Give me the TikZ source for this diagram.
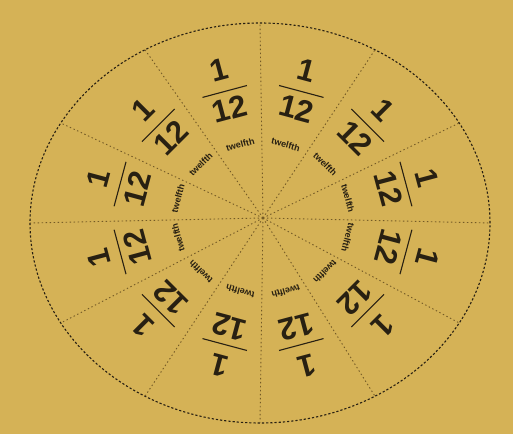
\documentclass[tikz,border=0pt]{standalone}
\usepackage{fontspec}
\setmainfont{Liberation Sans}
\usetikzlibrary{calc}
\definecolor{mustard}{RGB}{213,178,86}
\definecolor{ink}{RGB}{40,32,18}
\definecolor{spoke}{RGB}{115,90,38}
\begin{document}
\begin{tikzpicture}[x=1pt,y=1pt,
  fracnum/.style={font=\fontsize{31}{31}\bfseries\selectfont, text=ink, inner sep=0pt, transform shape},
  wlabel/.style={font=\fontsize{9}{9}\bfseries\selectfont, text=ink, inner sep=0pt},
  spokeline/.style={draw=spoke, line width=0.9pt, dash pattern=on 1.4pt off 2.6pt},
  rim/.style={draw=ink, line width=1.1pt, dash pattern=on 2.2pt off 2pt}]
\fill[mustard] (0,0) rectangle (513,434);
\useasboundingbox (0,0) rectangle (513,434);
\coordinate (E) at (260,211);
\coordinate (C) at (263,216);
\draw[rim] (E) ellipse [x radius=230, y radius=200];
\foreach \k in {0,...,11}{
  \pgfmathsetmacro{\a}{30*\k}
  \path (E) ++(\a:230 and 200) coordinate (o\k);
  \draw[spokeline] (C) -- (o\k);
}
\foreach \k in {0,...,11}{
  \pgfmathsetmacro{\a}{15+30*\k}
  \pgfmathsetmacro{\r}{\a-90}
  \begin{scope}[shift={($(C)+(\a:148 and 131)$)}, rotate=\r]
    \node[fracnum] (num\k) at (0,22) {1};
    \node[fracnum] (den\k) at (0,-18) {12};
    \draw[ink, line width=1.1pt] (-23,0) -- (23,0);
  \end{scope}
  \node[wlabel, rotate=\r] (tw\k) at ($(C)+(\a:88 and 76)$) {twelfth};
}
\end{tikzpicture}
\end{document}
